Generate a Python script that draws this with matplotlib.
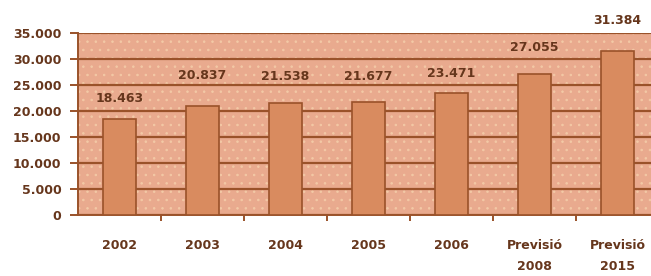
import matplotlib.pyplot as plt
import numpy as np

plt.rcParams['font.family'] = ['DejaVu Sans']
plt.rcParams['hatch.linewidth'] = 0.6

categories = ["2002", "2003", "2004", "2005", "2006", "Previsió\n2008", "Previsió\n2015"]
values = [18463, 20837, 21538, 21677, 23471, 27055, 31384]
value_labels = ["18.463", "20.837", "21.538", "21.677", "23.471", "27.055", "31.384"]
yticks = [0, 5000, 10000, 15000, 20000, 25000, 30000, 35000]
ytick_labels = ["0", "5.000", "10.000", "15.000", "20.000", "25.000", "30.000", "35.000"]
# vertical gap (pixels) between bar top and its label centre
label_gap = [20, 31, 26, 25, 19, 26, 31]

bg = "#E9AA8E"
bar_col = "#D98B5F"
dark = "#9A522A"
text_col = "#66361C"

fig = plt.figure(figsize=(6.51, 2.76), dpi=100)
ax = fig.add_axes([78/651, 61/276, 581/651, 182.5/276])

x = np.arange(len(categories))
ax.set_facecolor(bg)
ax.patch.set_hatch('..')
ax.patch.set_edgecolor('#F3C9A6')

ax.bar(x, values, width=0.4, color=bar_col, edgecolor=dark, linewidth=1.2, zorder=3)

for xi, v, lab, g in zip(x, values, value_labels, label_gap):
    ax.annotate(lab, (xi, v), xytext=(0, g*0.72), textcoords='offset points',
                ha='center', va='center', fontsize=9, fontweight='bold',
                color=text_col, annotation_clip=False)

ax.set_xlim(-0.5, len(categories) - 0.5)
ax.set_ylim(0, 35000)
ax.set_yticks(yticks)
ax.set_yticklabels(ytick_labels, fontweight='bold')
ax.yaxis.grid(True, color=dark, linewidth=1.6, zorder=1)
ax.set_axisbelow(True)

ax.set_xticks(x)
ax.set_xticklabels(categories, linespacing=1.85, fontweight='bold', va='top')
ax.set_xticks(np.arange(len(categories)) + 0.5, minor=True)
ax.tick_params(axis='x', which='major', length=0, pad=17, labelsize=9, labelcolor=text_col)
ax.tick_params(axis='x', which='minor', length=4, width=1.4, color=dark)
ax.tick_params(axis='y', length=6, width=1.4, color=dark, pad=6, labelsize=9, labelcolor=text_col)

for s in ['top', 'right']:
    ax.spines[s].set_visible(False)
for s in ['left', 'bottom']:
    ax.spines[s].set_color(dark)
    ax.spines[s].set_linewidth(1.4)

fig.savefig("out.png", dpi=100)
